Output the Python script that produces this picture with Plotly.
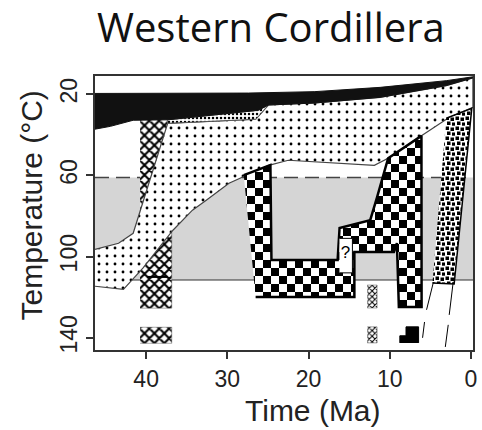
import plotly.graph_objects as go

# ---------------- data (Ma, °C) ----------------
title_text = "Western Cordillera"
x_title = "Time (Ma)"
y_title = "Temperature (°C)"
x_ticks = [40, 30, 20, 10, 0]
y_ticks = [20, 60, 100, 140]

# partial annealing / retention zone band (°C)
band_top = 61
band_bottom = 111.5

# surface / black band
black_t = [46.3, 27.4, 19.22, 11.19, 3.04, -0.24, -0.24, 0.24, 3.04, 11.19, 19.22,
           24.94, 26.2, 37.35, 41.6, 44.4, 46.3]
black_T = [19.6, 19.4, 18.7, 16.6, 13.3, 11.4, 11.9, 12.5, 15.7, 21.5, 24.3,
           25.3, 27.9, 32.6, 32.8, 35.8, 37.2]

# thin dense-dot strip below black band
strip_t = [37.35, 26.2, 24.94, 26.5, 37.35]
strip_T = [32.6, 27.9, 25.3, 32.3, 34.3]

# large stippled envelope
stip_t = [46.3, 43.4, 41.6, 37.35, 26.5, 24.94, 19.22, 11.19, 3.04, 0.24, -0.24,
          -0.24, 2.7, 6.1, 10.2, 11.9, 22.5, 24.9, 27.7, 29.8, 32.6, 34.3, 36.7,
          40.4, 42.8, 46.3]
stip_T = [96.4, 93.4, 88.5, 34.3, 32.3, 25.3, 24.3, 21.5, 15.7, 12.5, 11.9,
          26.4, 31.5, 40.5, 51.5, 55.0, 52.5, 55.0, 59.9, 63.8, 72.2, 77.1, 87.0,
          105.7, 116.1, 114.6]

# cross-hatched bar (~40-37 Ma)
diam_t = [40.75, 36.85, 36.85, 40.75]
diam_T1 = [32.3, 32.3, 125.4, 125.4]
diam_T2 = [134.8, 134.8, 142.7, 142.7]
diam_mark_t = [39.9, 37.35]
diam_mark_T = [110.0, 110.0]

# checkerboard path
chk_t = [27.98, 24.70, 24.57, 16.42, 16.18, 12.41, 11.56, 10.2, 6.1, 6.08,
         8.88, 9.12, 9.49, 14.36, 14.36, 26.52]
chk_T = [59.8, 54.9, 101.7, 101.7, 85.9, 82.0, 70.7, 51.5, 40.5, 124.8,
         124.8, 93.3, 97.7, 97.7, 119.9, 119.9]
q_box_t = [16.2, 14.6, 14.6, 16.2]
q_box_T = [91.0, 91.0, 108.0, 108.0]
q_t, q_T = 15.45, 98.5

# square-dotted band (young)
sq_t = [3.04, -0.1, 2.07, 4.74]
sq_T = [31.8, 26.9, 113.5, 113.0]

# small hatched boxes (~12 Ma)
sm_t = [12.77, 11.56, 11.56, 12.77]
sm_T1 = [114.0, 114.0, 125.3, 125.3]
sm_T2 = [134.6, 134.6, 142.5, 142.5]

# small black piece (~8 Ma)
blk2_t = [8.76, 8.76, 8.0, 8.0, 6.45, 6.45]
blk2_T = [142.5, 139.0, 139.0, 134.6, 134.6, 142.5]

# thin lines below the young band
l1_t = [4.62, 5.47, None, 5.72, 5.96]
l1_T = [112.5, 126.2, None, 132.2, 140.0]
l2_t = [2.19, 2.68, None, 2.8, 3.16]
l2_T = [112.5, 128.7, None, 133.6, 144.5]

x_range = [46.3, -0.25]
y_range = [146, 11]

# ---------------- figure ----------------
fig = go.Figure()


def poly(t, T, pattern=None, color="black", lw=1.0, lcolor="black"):
    kw = dict(x=t, y=T, mode="lines", fill="toself",
              line=dict(color=lcolor, width=lw), hoverinfo="skip",
              showlegend=False)
    if pattern is None:
        kw["fillcolor"] = color
    else:
        kw["fillcolor"] = "white"
        kw["fillpattern"] = dict(fgcolor="black", bgcolor="white",
                                 fgopacity=1, fillmode="replace", **pattern)
    fig.add_trace(go.Scatter(**kw))


diam_pat = dict(shape="x", size=7, solidity=0.5)
poly(diam_t, diam_T1, diam_pat, lw=0.5, lcolor="#555")
poly(diam_t, diam_T2, diam_pat, lw=0.5, lcolor="#555")
fig.add_trace(go.Scatter(x=diam_mark_t, y=diam_mark_T, mode="lines",
                         line=dict(color="black", width=2), hoverinfo="skip",
                         showlegend=False))

poly(stip_t, stip_T, dict(shape=".", size=8, solidity=0.1), lw=1.2, lcolor="#444")
poly(strip_t, strip_T, dict(shape=".", size=4, solidity=0.3), lw=1, lcolor="#555")
poly(black_t, black_T, color="#111", lw=1, lcolor="#111")

poly(chk_t, chk_T, dict(shape="+", size=16, solidity=0.5), lw=2.5, lcolor="black")
poly(q_box_t, q_box_T, color="white", lw=1, lcolor="black")

poly(sq_t, sq_T, dict(shape=".", size=10, solidity=0.3), lw=1.5, lcolor="black")

sm_pat = dict(shape="x", size=4, solidity=0.45)
poly(sm_t, sm_T1, sm_pat, lw=0.5, lcolor="#555")
poly(sm_t, sm_T2, sm_pat, lw=0.5, lcolor="#555")
poly(blk2_t, blk2_T, color="black", lw=1, lcolor="black")

for lt, lT in ((l1_t, l1_T), (l2_t, l2_T)):
    fig.add_trace(go.Scatter(x=lt, y=lT, mode="lines",
                             line=dict(color="black", width=1), hoverinfo="skip",
                             showlegend=False))

fig.add_trace(go.Scatter(x=[q_t], y=[q_T], mode="text", text=["?"],
                         textfont=dict(family="Liberation Sans", size=17, color="black"),
                         hoverinfo="skip", showlegend=False))

# band and its bounding lines
fig.add_shape(type="rect", xref="paper", x0=0, x1=1, yref="y", y0=band_top,
              y1=band_bottom, fillcolor="#d5d5d5", line=dict(width=0), layer="below")
fig.add_shape(type="line", xref="paper", x0=0, x1=1, yref="y", y0=band_top,
              y1=band_top, line=dict(color="#444", width=1.5, dash="14px,7px"),
              layer="below")
fig.add_shape(type="line", xref="paper", x0=0, x1=1, yref="y", y0=band_bottom,
              y1=band_bottom, line=dict(color="#333", width=1.2), layer="below")

axis_common = dict(showgrid=False, zeroline=False, showline=True, mirror=True,
                   linecolor="#333", linewidth=2, ticks="outside", ticklen=7,
                   tickwidth=1.5, tickcolor="#333",
                   tickfont=dict(family="Liberation Sans", size=23, color="#222"))

fig.update_layout(
    width=482, height=430,
    margin=dict(l=95, r=5, t=76, b=80),
    paper_bgcolor="white", plot_bgcolor="white",
    xaxis=dict(range=x_range, tickvals=x_ticks, **axis_common),
    yaxis=dict(range=y_range, tickvals=y_ticks, tickangle=-90, **axis_common),
    title=dict(text=title_text, x=0.562, xref="container", xanchor="center",
               y=0.936, yref="container", yanchor="middle",
               font=dict(family="Open Sans", size=40, weight=400, color="#111")),
    annotations=[
        dict(text=x_title, xref="paper", yref="paper", x=(315 - 95) / 382,
             y=-0.22, xanchor="center", yanchor="middle", showarrow=False,
             font=dict(family="Liberation Sans", size=30, color="#222")),
        dict(text=y_title, xref="paper", yref="paper", x=(31 - 95) / 382,
             y=0.526, xanchor="center", yanchor="middle", showarrow=False,
             textangle=-90,
             font=dict(family="Liberation Sans", size=30, color="#222")),
    ],
)

# turn the '+' fill (16 px tile) into a checkerboard, and the 10 px dot tile
# into small scattered squares
pattern_js = """
function restyleTiles(){
  document.querySelectorAll('pattern').forEach(function(p){
    var w = parseFloat(p.getAttribute('width'));
    if (w === 16) {
      p.innerHTML = '<rect width="16" height="16" fill="white"/>' +
        '<rect width="8" height="8" fill="black"/>' +
        '<rect x="8" y="8" width="8" height="8" fill="black"/>';
    } else if (w === 10) {
      p.innerHTML = '<rect width="10" height="10" fill="white"/>' +
        '<rect x="0.5" y="0.5" width="3.5" height="3.5" fill="black"/>' +
        '<rect x="5.5" y="1.5" width="3.5" height="3.5" fill="black"/>' +
        '<rect x="2" y="5.5" width="3.5" height="3.5" fill="black"/>' +
        '<rect x="7" y="6.5" width="3" height="3.2" fill="black"/>';
    }
  });
}
restyleTiles();
setTimeout(restyleTiles, 50);
setTimeout(restyleTiles, 300);
"""

fig.write_html("out.html", post_script=pattern_js)
